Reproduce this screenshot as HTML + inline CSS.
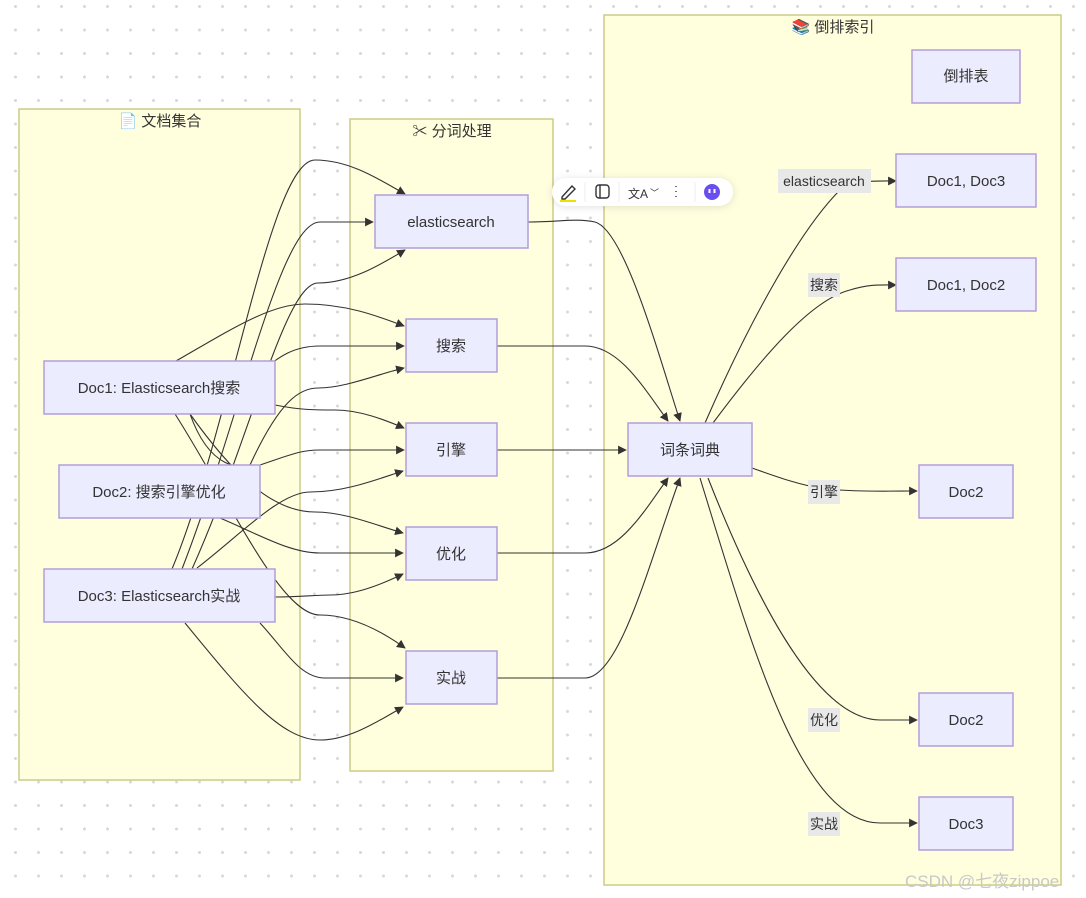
<!DOCTYPE html>
<html><head><meta charset="utf-8"><style>
html,body{margin:0;padding:0;width:1086px;height:898px;overflow:hidden;background:#fff;}
svg{position:absolute;left:0;top:0;}
text{font-family:"Liberation Sans","Noto Sans CJK SC",sans-serif;fill:#333;}
</style></head><body>
<svg width="1086" height="898" viewBox="0 0 1086 898">
<defs>
<pattern id="dots" x="14" y="5" width="23" height="23.5" patternUnits="userSpaceOnUse"><circle cx="1.5" cy="1.5" r="1.5" fill="#d8d8d8"/></pattern>
<marker id="a" viewBox="0 0 10 10" refX="9" refY="5" markerWidth="8" markerHeight="8" orient="auto"><path d="M0,0 L10,5 L0,10 z" fill="#333"/></marker>
<filter id="sh" x="-20%" y="-50%" width="140%" height="200%"><feDropShadow dx="0" dy="1" stdDeviation="4" flood-color="#000" flood-opacity="0.12"/></filter>
</defs>
<rect width="1086" height="898" fill="url(#dots)"/>
<!-- subgraphs -->
<rect x="19" y="109" width="281" height="671" fill="#ffffde" stroke="#cccc88" stroke-width="1.5"/>
<rect x="350" y="119" width="203" height="652" fill="#ffffde" stroke="#cccc88" stroke-width="1.5"/>
<rect x="604" y="15" width="457" height="870" fill="#ffffde" stroke="#cccc88" stroke-width="1.5"/>
<text x="160" y="126" font-size="15" text-anchor="middle">📄 文档集合</text>
<text x="452" y="136" font-size="15" text-anchor="middle">✂ 分词处理</text>
<text x="833" y="32" font-size="15" text-anchor="middle">📚 倒排索引</text>
<!-- edges -->
<g fill="none" stroke="#333" stroke-width="1.1" marker-end="url(#a)">
<path d="M172,569 C230,430 270,160 315,160 C350,160 380,180 405,194"/>
<path d="M182,569 C240,420 280,222 320,222 L373,222"/>
<path d="M192,569 C250,440 285,283 318,283 C350,283 380,265 405,250"/>
<path d="M176,361 C230,330 270,304 305,304 C345,304 375,315 404,326"/>
<path d="M257,375 C280,355 295,346 320,346 L404,346"/>
<path d="M250,465 C280,400 300,388 318,388 C345,388 375,375 404,368"/>
<path d="M275,405 C300,410 315,410 335,410 C360,410 385,420 404,428"/>
<path d="M190,414 C210,470 240,470 260,465 C290,455 300,450 320,450 L404,450"/>
<path d="M197,568 C240,535 280,492 310,492 C345,492 375,480 403,471"/>
<path d="M190,414 C230,470 270,512 315,512 C345,512 375,525 403,533"/>
<path d="M220,518 C260,535 290,553 320,553 L403,553"/>
<path d="M275,597 C300,597 315,595 330,595 C355,595 380,585 403,574"/>
<path d="M175,414 C230,500 280,615 320,615 C350,615 380,630 405,648"/>
<path d="M260,623 C285,650 300,678 325,678 L403,678"/>
<path d="M185,623 C240,690 280,740 320,740 C350,740 380,720 403,707"/>
<path d="M528,222 C560,222 575,218 595,222 C625,230 660,360 680,421"/>
<path d="M497,346 L585,346 C620,346 645,390 668,421"/>
<path d="M497,450 L626,450"/>
<path d="M497,553 L585,553 C620,553 645,510 668,478"/>
<path d="M497,678 L585,678 C620,678 650,560 680,478"/>
<path d="M705,423 C750,320 800,230 840,190 C860,180 870,181 896,181"/>
<path d="M713,423 C760,360 810,300 850,290 C870,284 880,285 896,285"/>
<path d="M752,468 C780,478 800,485 825,489 C860,492 890,491 917,491"/>
<path d="M708,478 C760,610 820,720 880,720 L917,720"/>
<path d="M700,478 C750,640 800,823 880,823 L917,823"/>
</g>
<!-- edge labels -->
<g font-size="14">
<rect x="778" y="169" width="93" height="24" fill="#e8e8e8"/><text x="824" y="186" text-anchor="middle">elasticsearch</text>
<rect x="808" y="273" width="32" height="24" fill="#e8e8e8"/><text x="824" y="290" text-anchor="middle">搜索</text>
<rect x="808" y="480" width="32" height="24" fill="#e8e8e8"/><text x="824" y="497" text-anchor="middle">引擎</text>
<rect x="808" y="708" width="32" height="24" fill="#e8e8e8"/><text x="824" y="725" text-anchor="middle">优化</text>
<rect x="808" y="812" width="32" height="24" fill="#e8e8e8"/><text x="824" y="829" text-anchor="middle">实战</text>
</g>
<!-- nodes -->
<g fill="#ececff" stroke="#b39ddb" stroke-width="1.5">
<rect x="44" y="361" width="231" height="53"/>
<rect x="59" y="465" width="201" height="53"/>
<rect x="44" y="569" width="231" height="53"/>
<rect x="375" y="195" width="153" height="53"/>
<rect x="406" y="319" width="91" height="53"/>
<rect x="406" y="423" width="91" height="53"/>
<rect x="406" y="527" width="91" height="53"/>
<rect x="406" y="651" width="91" height="53"/>
<rect x="628" y="423" width="124" height="53"/>
<rect x="912" y="50" width="108" height="53"/>
<rect x="896" y="154" width="140" height="53"/>
<rect x="896" y="258" width="140" height="53"/>
<rect x="919" y="465" width="94" height="53"/>
<rect x="919" y="693" width="94" height="53"/>
<rect x="919" y="797" width="94" height="53"/>
</g>
<g font-size="15" text-anchor="middle">
<text x="159" y="393">Doc1: Elasticsearch搜索</text>
<text x="159" y="497">Doc2: 搜索引擎优化</text>
<text x="159" y="601">Doc3: Elasticsearch实战</text>
<text x="451" y="227">elasticsearch</text>
<text x="451" y="351">搜索</text>
<text x="451" y="455">引擎</text>
<text x="451" y="559">优化</text>
<text x="451" y="683">实战</text>
<text x="690" y="455">词条词典</text>
<text x="966" y="81">倒排表</text>
<text x="966" y="186">Doc1, Doc3</text>
<text x="966" y="290">Doc1, Doc2</text>
<text x="966" y="497">Doc2</text>
<text x="966" y="725">Doc2</text>
<text x="966" y="829">Doc3</text>
</g>
<!-- toolbar overlay -->
<rect x="552" y="178" width="181" height="28" rx="14" fill="#fff" filter="url(#sh)"/>
<g stroke="#333" fill="none" stroke-width="1.4">
<path d="M562,197 L572,186 L575,189 L565,199 L562,199 z"/>
<rect x="596" y="185" width="13" height="13" rx="3"/><line x1="600" y1="185" x2="600" y2="198"/>
<line x1="676" y1="186" x2="676" y2="187"/><line x1="676" y1="191" x2="676" y2="192"/><line x1="676" y1="196" x2="676" y2="197"/>
</g>
<rect x="560" y="200" width="16" height="2" fill="#f0e000"/>
<line x1="585" y1="182" x2="585" y2="202" stroke="#eee"/>
<line x1="619" y1="182" x2="619" y2="202" stroke="#eee"/>
<line x1="695" y1="182" x2="695" y2="202" stroke="#eee"/>
<text x="628" y="198" font-size="12" fill="#333">文A</text>
<text x="650" y="196" font-size="9" fill="#999">﹀</text>
<circle cx="712" cy="192" r="8" fill="#6a4ef0"/>
<rect x="708.5" y="189" width="2" height="4" fill="#fff"/><rect x="713.5" y="189" width="2" height="4" fill="#fff"/>
<text x="905" y="887" font-size="17" fill="#c8c8c8" style="fill:#c8c8c8">CSDN @七夜zippoe</text>
</svg>
</body></html>
